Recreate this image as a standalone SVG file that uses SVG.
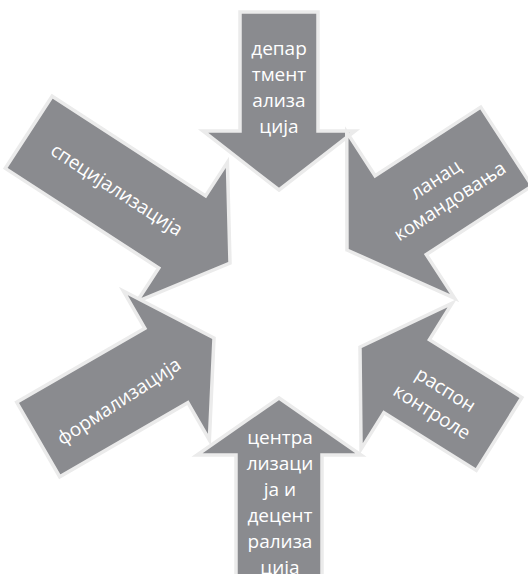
<svg xmlns="http://www.w3.org/2000/svg" width="528" height="574" viewBox="0 0 528 574">
<style>
.arr{fill:#8a8b8f;stroke:#ebebeb;stroke-width:3.5;stroke-linejoin:miter}
.t{font-family:"Open Sans","Noto Sans","DejaVu Sans",sans-serif;font-size:19px;fill:#ffffff;text-anchor:middle}
</style>
<rect width="528" height="574" fill="#ffffff"/>
<g id="connectors"></g>
<g id="node-departmentalizacija">
<polygon class="arr" transform="translate(279,190) rotate(90)" points="0,0 -59,-76 -59,-39 -178,-39 -178,39 -59,39 -59,76"/>
<text class="t" x="279" y="55">депар</text>
<text class="t" x="279" y="81">тмент</text>
<text class="t" x="279" y="107">ализа</text>
<text class="t" x="279" y="133">ција</text>
</g>
<g id="node-specijalizacija">
<polygon class="arr" transform="translate(230,263) rotate(33)" points="0,0 -57,-83 -57,-43 -240,-43 -240,43 -57,43 -57,83"/>
<text class="t" transform="translate(116,191) rotate(33)" x="0" y="5">специјализација</text>
</g>
<g id="node-lanac">
<polygon class="arr" transform="translate(347,250) rotate(147)" points="0,0 -64,-99 -64,-47 -190,-47 -190,47 -64,47 -64,99"/>
<g transform="translate(443.5,191.5) rotate(-33)">
<text class="t" x="0" y="-8">ланац</text>
<text class="t" x="0" y="18">командовања</text>
</g>
</g>
<g id="node-raspon">
<polygon class="arr" transform="translate(360,347) rotate(212)" points="0,0 -55,-86 -55,-43 -164,-43 -164,43 -55,43 -55,86"/>
<g transform="translate(438,402) rotate(32)">
<text class="t" x="0" y="-8">распон</text>
<text class="t" x="0" y="18">контроле</text>
</g>
</g>
<g id="node-formalizacija">
<polygon class="arr" transform="translate(214,338) rotate(-30)" points="0,0 -55,-86 -55,-43 -203,-43 -203,43 -55,43 -55,86"/>
<text class="t" transform="translate(119.5,402.5) rotate(-33)" x="0" y="5">формализација</text>
</g>
<g id="node-centralizacija">
<polygon class="arr" transform="translate(279,398) rotate(-90)" points="0,0 -57,-82 -57,-43 -200,-43 -200,43 -57,43 -57,82"/>
<text class="t" x="280" y="444">центра</text>
<text class="t" x="280" y="470">лизаци</text>
<text class="t" x="280" y="496">ја и</text>
<text class="t" x="280" y="522">децент</text>
<text class="t" x="280" y="548">рализа</text>
<text class="t" x="280" y="574">ција</text>
</g>
</svg>
